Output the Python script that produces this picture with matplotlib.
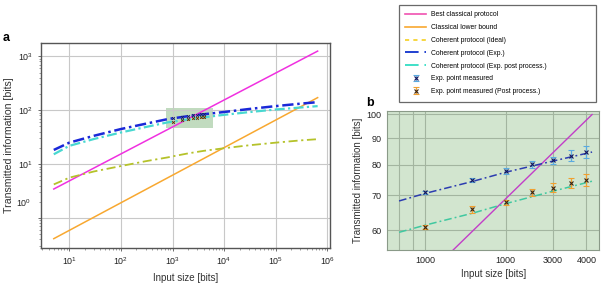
import matplotlib
matplotlib.use("Agg")
import matplotlib.pyplot as plt
from matplotlib.lines import Line2D
from matplotlib.ticker import NullFormatter, FixedLocator

plt.rcParams['font.family'] = ['Liberation Sans', 'DejaVu Sans']
plt.rcParams['mathtext.default'] = 'regular'

# ---- panel a curves ----
n_curve = [5, 10, 30, 100, 300, 800, 1000, 2000, 4000, 10000, 30000, 100000, 300000, 650000]
coh_exp = [18.3, 25, 33.5, 44.7, 56, 68.2, 70.5, 77.4, 84, 92.5, 105, 119, 132, 141]
coh_post = [15.2, 21.8, 29.2, 38.6, 48.6, 59.4, 61.3, 67.4, 73.7, 82, 92, 103, 112, 119]
coh_ideal = [4.2, 5.6, 7.3, 9.2, 11.3, 13.3, 13.9, 15.8, 17.6, 19.7, 22.3, 25, 27.5, 29]
n_ends = [5, 650000]
best_classical = [3.45, 1247]
lower_bound = [0.414, 171]

# highlighted region in panel a
box_x = [740, 6000]
box_y = [46, 109]

# ---- panel b (zoom) ----
zoom_n = [800, 1000, 1500, 2000, 3000, 4200]
zoom_exp = [68.2, 70.5, 74.3, 77.4, 81.3, 84.6]
zoom_post = [59.4, 61.3, 64.6, 67.4, 71.2, 74.4]
zoom_best_n = [1000, 4200]
zoom_best = [48.7, 99.8]

pts_n = [1000, 1500, 2000, 2500, 3000, 3500, 4000]
pts_exp = [70.8, 74.7, 77.7, 80.1, 81.6, 83.3, 84.6]
err_exp = [0.5, 0.7, 1.0, 1.2, 1.3, 2.0, 2.2]
pts_post = [60.9, 65.7, 67.8, 70.8, 72.3, 73.9, 74.8]
err_post = [0.5, 0.9, 0.7, 1.1, 1.5, 1.7, 2.1]

b_ticks = [1000, 2000, 3000, 4000]
b_tick_labels = ['1000', '1000', '3000', '4000']
b_yticks = [60, 70, 80, 90, 100]

fig = plt.figure(figsize=(6.04, 2.84), dpi=100)

# ================= panel a =================
ax = fig.add_axes([0.0674, 0.1268, 0.479, 0.7218])
ax.set_xscale('log')
ax.set_yscale('log')
ax.fill_between(box_x, box_y[0], box_y[1], color='#8fbf8c', alpha=0.55, lw=0, zorder=1)
ax.plot(n_ends, best_classical, color='#f030e0', lw=1.1, zorder=3)
ax.plot(n_ends, lower_bound, color='#f8a830', lw=1.1, zorder=3)
ax.plot(n_curve, coh_ideal, color='#b5c22a', lw=1.3, ls=(0, (5, 2, 1.2, 2)), zorder=3)
ax.plot(n_curve, coh_post, color='#48d8d0', lw=1.6, ls=(0, (4.5, 1.5, 1, 1.5)), zorder=3)
ax.plot(n_curve, coh_exp, color='#1a28d8', lw=1.8, ls=(0, (4.5, 1.5, 1, 1.5)), zorder=4)
ax.errorbar(pts_n, pts_exp, yerr=err_exp, fmt='x', ms=2, mew=0.6, color='#1a1a60',
            ecolor='#4aa0e0', elinewidth=0.6, capsize=1, zorder=5)
ax.errorbar(pts_n, pts_post, yerr=err_post, fmt='x', ms=2, mew=0.6, color='#503010',
            ecolor='#f0a030', elinewidth=0.6, capsize=1, zorder=5)

ax.set_xlim(2.79, 1.13e6)
ax.set_ylim(0.278, 1763)
ax.set_xticks([10, 100, 1000, 10000, 100000, 1000000])
ax.set_xticklabels(['$10^{%d}$' % k for k in range(1, 7)])
ax.set_yticks([1, 10, 100, 1000])
ax.set_yticklabels(['', '$10^{1}$', '$10^{2}$', '$10^{3}$'])
ax.xaxis.set_minor_formatter(NullFormatter())
ax.yaxis.set_minor_formatter(NullFormatter())
ax.text(-0.032, 1.9, '$10^{0}$', transform=ax.get_yaxis_transform(),
        ha='right', va='center', fontsize=6.4, color='#222222')
ax.tick_params(which='major', direction='out', length=2.5, width=0.6,
               labelsize=6.4, colors='#555555', labelcolor='#222222', pad=3)
ax.tick_params(which='minor', direction='out', length=1.5, width=0.5, colors='#777777')
ax.grid(True, which='major', color='#c8c8c8', lw=0.8)
for s in ax.spines.values():
    s.set_color('#555555')
    s.set_linewidth(1.0)
ax.set_xlabel('Input size [bits]', fontsize=7, color='#333333', labelpad=4)
ax.set_ylabel('Transmitted information [bits]', fontsize=7.6, color='#333333', labelpad=3)

# ================= panel b =================
bx = fig.add_axes([0.6412, 0.1197, 0.3505, 0.4905])
bx.set_xscale('log')
bx.set_yscale('log')
bx.set_facecolor('#d2e5cf')
bx.plot(zoom_best_n, zoom_best, color='#c23ec8', lw=1.0, zorder=3)
bx.plot(zoom_n, zoom_exp, color='#2c3cb0', lw=1.1, ls=(0, (5, 2, 1.2, 2)), zorder=3)
bx.plot(zoom_n, zoom_post, color='#40c8a0', lw=1.1, ls=(0, (5, 2, 1.2, 2)), zorder=3)
eb_exp = bx.errorbar(pts_n, pts_exp, yerr=err_exp, fmt='x', ms=2.5, mew=0.8, color='#14145a',
                     ecolor='#5aaae0', elinewidth=0.9, capsize=2, capthick=0.8, zorder=5)
eb_post = bx.errorbar(pts_n, pts_post, yerr=err_post, fmt='x', ms=2.5, mew=0.8, color='#3a2410',
                      ecolor='#f0a030', elinewidth=0.9, capsize=2, capthick=0.8, zorder=5)
bx.set_xlim(723, 4457)
bx.set_ylim(54.95, 101.5)
bx.xaxis.set_major_locator(FixedLocator(b_ticks))
bx.set_xticklabels(b_tick_labels)
bx.xaxis.set_minor_locator(FixedLocator([800, 900]))
bx.xaxis.set_minor_formatter(NullFormatter())
bx.yaxis.set_major_locator(FixedLocator(b_yticks))
bx.set_yticklabels([str(v) for v in b_yticks])
bx.yaxis.set_minor_locator(FixedLocator([]))
bx.tick_params(which='both', length=0, labelsize=6.5, labelcolor='#222222', pad=4)
bx.grid(True, which='both', color='#a3b5a0', lw=0.8)
for s in bx.spines.values():
    s.set_color('#8a9a88')
    s.set_linewidth(0.8)
bx.set_xlabel('Input size [bits]', fontsize=7, color='#333333', labelpad=3)
bx.set_ylabel('Transmitted information [bits]', fontsize=7, color='#333333', labelpad=3)

# ================= legend =================
handles = [
    Line2D([], [], color='#f052b0', lw=1.2),
    Line2D([], [], color='#f8a830', lw=1.2),
    Line2D([], [], color='#f5d020', lw=1.2, ls=(0, (2.5, 2.5))),
    Line2D([], [], color='#2040d0', lw=1.4, ls=(0, (7, 3, 1, 3))),
    Line2D([], [], color='#40e0c8', lw=1.4, ls=(0, (7, 3, 1, 3))),
    eb_exp,
    eb_post,
]
labels = ['Best classical protocol', 'Classical lower bound', 'Coherent protocol (Ideal)',
          'Coherent protocol (Exp.)', 'Coherent protocol (Exp. post process.)',
          'Exp. point measured', 'Exp. point measured (Post process.)']
leg = fig.legend(handles, labels, loc='upper left',
                 bbox_to_anchor=(399 / 604, 1 - 5 / 284, 197 / 604, 0.0),
                 mode='expand', fontsize=4.9, frameon=True, fancybox=False,
                 handlelength=3.0, handletextpad=0.8, labelspacing=0.85,
                 borderpad=0.95, borderaxespad=0.0)
leg.get_frame().set_edgecolor('#444444')
leg.get_frame().set_linewidth(0.9)

fig.text(0.004, 0.866, 'a', fontsize=9, fontweight='bold', va='center')
fig.text(366 / 604, 1 - 103 / 284, 'b', fontsize=9, fontweight='bold', va='center')

fig.savefig('out.png', dpi=100)
